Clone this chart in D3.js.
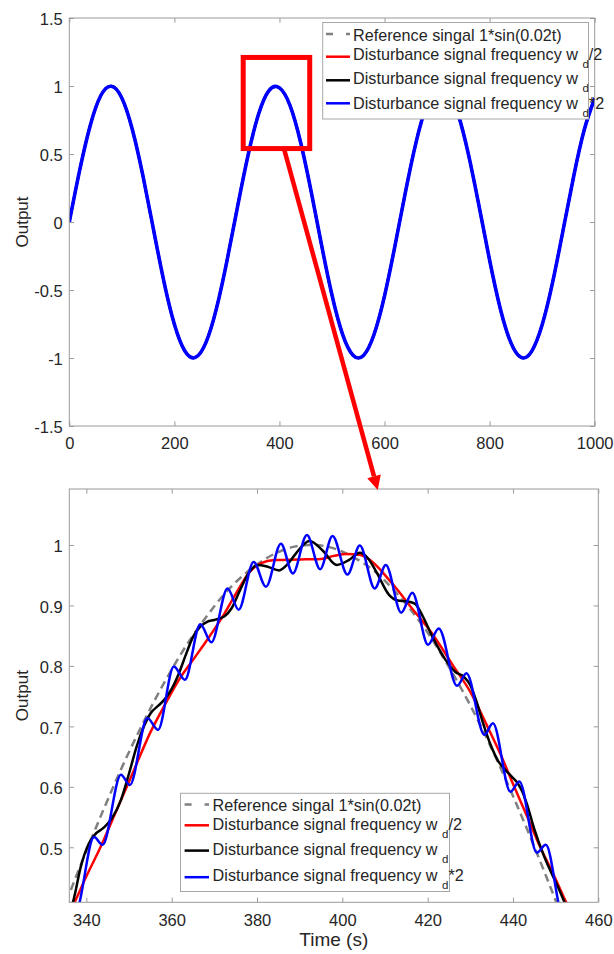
<!DOCTYPE html>
<html><head><meta charset="utf-8">
<script src="https://cdn.jsdelivr.net/npm/d3@7"></script>
<style>
html,body{margin:0;padding:0;background:#fff;}
svg text{font-family:"Liberation Sans",Arial,Helvetica,sans-serif;fill:#262626;}
</style></head><body>
<svg id="chart" width="614" height="954"></svg>
<script>
// ---------------- DATA ----------------
// Full view (0-1000 s)
const topTime = [0,20,40,60,80,100,120,140,160,180,200,220,240,260,280,300,320,340,360,380,400,420,440,460,480,500,520,540,560,580,600,620,640,660,680,700,720,740,760,780,800,820,840,860,880,900,920,940,960,980,1000];
const topReference = [0,0.389,0.717,0.932,1.000,0.909,0.675,0.335,-0.058,-0.443,-0.757,-0.952,-0.996,-0.884,-0.631,-0.279,0.117,0.494,0.794,0.968,0.989,0.855,0.585,0.223,-0.174,-0.544,-0.828,-0.981,-0.979,-0.823,-0.537,-0.165,0.232,0.592,0.859,0.991,0.966,0.788,0.486,0.108,-0.288,-0.638,-0.887,-0.997,-0.949,-0.751,-0.435,-0.050,0.343,0.682,0.913];
const topHalfFreq   = [0,0.385,0.712,0.930,0.998,0.912,0.680,0.342,-0.050,-0.436,-0.752,-0.949,-0.996,-0.887,-0.637,-0.287,0.108,0.487,0.790,0.966,0.986,0.858,0.590,0.230,-0.167,-0.538,-0.824,-0.979,-0.981,-0.827,-0.543,-0.172,0.224,0.586,0.855,0.989,0.968,0.793,0.492,0.115,-0.281,-0.632,-0.883,-0.996,-0.951,-0.756,-0.442,-0.057,0.336,0.676,0.910];
const topFreq       = topHalfFreq;
const topDoubleFreq = topHalfFreq;

// Zoomed view (336-460 s)
const zoomRefTime = [332,336,340,344,348,352,356,360,364,368,372,376,380,384,388,392,396,400,404,408,412,416,420,424,428,432,436,440,444,448,452,456];
const zoomRef     = [0.349,0.423,0.494,0.562,0.627,0.687,0.743,0.794,0.840,0.880,0.916,0.945,0.968,0.985,0.996,1.000,0.998,0.989,0.974,0.954,0.926,0.893,0.855,0.810,0.761,0.707,0.648,0.585,0.518,0.448,0.375,0.300];

const zoomRedTime = [333,337.5,340,343.3,347,351,355,358.5,361.7,365,368.5,372.4,375.5,378.2,381,384,390,395,398,401,404,406.5,408.5,410.5,413,416,421,426,430,434,437,440.3,443.5,446.4,449.5,452.2,456];
const zoomRed     = [0.35,0.413,0.452,0.50,0.56,0.625,0.69,0.737,0.777,0.81,0.845,0.887,0.925,0.955,0.970,0.975,0.976,0.977,0.982,0.985,0.984,0.975,0.962,0.946,0.925,0.898,0.854,0.80,0.757,0.70,0.655,0.60,0.548,0.50,0.455,0.413,0.36];

const zoomBlackTime = [334.5,337,338.7,340.5,342,344,346,348.1,350,351.8,353.5,355.1,357,358.4,360,361.7,363.5,365,366.7,368.3,370,372.4,374,376,378,380.2,382.5,385.2,387,389,392.3,395.5,398.7,401.5,404.1,406,408,411,413,415,417,419,421,424.2,426.5,428.5,430,431.5,433,434.9,436.5,438.2,439.7,441.1,442.2,443.2,445,447.3,450.5,453.5];
const zoomBlack     = [0.37,0.413,0.468,0.505,0.521,0.532,0.548,0.578,0.622,0.667,0.70,0.722,0.735,0.745,0.762,0.788,0.822,0.848,0.865,0.873,0.876,0.882,0.895,0.925,0.953,0.967,0.964,0.958,0.967,0.985,1.0066,0.99,0.967,0.975,0.987,0.978,0.955,0.917,0.908,0.907,0.903,0.88,0.85,0.81,0.79,0.782,0.768,0.74,0.705,0.667,0.643,0.628,0.617,0.606,0.592,0.573,0.53,0.485,0.435,0.385];

const zoomBlueTime = [333.5,335.6,337.5,341.8,343.8,348.1,350.2,354.3,356.8,360.5,363.1,366.7,369.3,373.1,375.7,379.2,382.1,385.6,388.4,391.7,394.8,397.7,401.2,404.1,407.6,410.2,413.8,416.4,420.1,422.6,426.9,429.1,433.3,435.3,439.4,441.5,445.6,447.7,451.8,453.9,456];
const zoomBlue     = [0.36,0.41,0.395,0.517,0.504,0.620,0.603,0.714,0.694,0.799,0.777,0.869,0.839,0.928,0.893,0.972,0.931,1.002,0.953,1.0165,0.960,1.015,0.951,0.999,0.928,0.967,0.888,0.921,0.835,0.862,0.767,0.788,0.686,0.705,0.592,0.609,0.491,0.504,0.385,0.39,0.34];

const topXTicks = [0,200,400,600,800,1000];
const topYTicks = [-1.5,-1,-0.5,0,0.5,1,1.5];
const zoomXTicks = [340,360,380,400,420,440,460];
const zoomYTicks = [0.5,0.6,0.7,0.8,0.9,1];

const legendLabels = [
  {main:"Reference singal 1*sin(0.02t)", sub:"", tail:""},
  {main:"Disturbance signal frequency w ", sub:"d", tail:"/2"},
  {main:"Disturbance signal frequency w ", sub:"d", tail:""},
  {main:"Disturbance signal frequency w ", sub:"d", tail:"*2"}
];
// zoom window (data units of the full view) and arrow anchors
const zoomWindow = {t0:331, t1:457.6, v0:0.54, v1:1.21};
const arrowFrom = {t:408.6, v:0.54};   // on top chart
const arrowTo   = {t:408.3, v:1.091};  // on zoom chart

// ---------------- STYLE / LAYOUT ----------------
const styles = [
  {color:"#808080", width:2.5, dash:"8,5", legDash:"7,13"},
  {color:"#ff0000", width:2.5, dash:null},
  {color:"#000000", width:2.5, dash:null},
  {color:"#0000ff", width:2.5, dash:null}
];
const AX = "#9a9a9a", TICK = 4.7, TICKFS = 16.5, LEGFS = 16.2;
const svg = d3.select("#chart");

const xTop = d3.scaleLinear([0,1000],[69.3,594.7]);
const yTop = d3.scaleLinear([-1.5,1.5],[426,18]);
const xBot = d3.scaleLinear([336,460],[69.3,598.3]);
const yBot = d3.scaleLinear([0.409,1.0926],[902.3,489]);

function clip(id, x, y){
  svg.append("clipPath").attr("id",id).append("rect")
    .attr("x",x.range()[0]).attr("y",y.range()[1])
    .attr("width",x.range()[1]-x.range()[0]).attr("height",y.range()[0]-y.range()[1]);
}
clip("clipTop",xTop,yTop); clip("clipBot",xBot,yBot);

function drawLine(g, ts, vs, x, y, st, curve, w){
  const line = d3.line().x((d,i)=>x(ts[i])).y(d=>y(d)).curve(curve);
  g.append("path").datum(vs).attr("d",line)
    .attr("fill","none").attr("stroke",st.color)
    .attr("stroke-width",w||st.width)
    .attr("stroke-dasharray",st.dash)
    .attr("stroke-linejoin","round");
}

function drawFrame(x, y, xTicks, yTicks, xPad, fs){
  const [x0,x1] = x.range(), [yb,yt] = y.range();
  const g = svg.append("g");
  const fmt = d=>String(d);
  const style = sel => {
    sel.select(".domain").remove();
    sel.selectAll(".tick line").attr("stroke",AX).attr("stroke-width",1);
    sel.selectAll("text").attr("font-size",fs+"px").attr("font-family",null).attr("fill","#262626");
    sel.attr("font-family",null).attr("font-size",null);
  };
  g.append("g").attr("transform",`translate(0,${yb})`)
    .call(d3.axisBottom(x).tickValues(xTicks).tickSize(-TICK).tickPadding(xPad).tickFormat(fmt)).call(style);
  g.append("g").attr("transform",`translate(0,${yt})`)
    .call(d3.axisTop(x).tickValues(xTicks).tickSize(-TICK).tickFormat("")).call(style);
  const gl = g.append("g").attr("transform",`translate(${x0},0)`)
    .call(d3.axisLeft(y).tickValues(yTicks).tickSize(-TICK).tickPadding(6.5).tickFormat(fmt)).call(style);
  gl.selectAll("text").attr("dy","0.42em");
  g.append("g").attr("transform",`translate(${x1},0)`)
    .call(d3.axisRight(y).tickValues(yTicks).tickSize(-TICK).tickFormat("")).call(style);
  g.append("rect").attr("x",x0).attr("y",yt).attr("width",x1-x0).attr("height",yb-yt)
    .attr("fill","none").attr("stroke",AX).attr("stroke-width",1);
}

function drawLegend(L){
  const g = svg.append("g");
  g.append("rect").attr("x",L.x0).attr("y",L.y0).attr("width",L.x1-L.x0).attr("height",L.y1-L.y0)
    .attr("fill","#fff").attr("stroke","#a8a8a8").attr("stroke-width",1);
  legendLabels.forEach((lab,i)=>{
    const st = styles[i];
    g.append("line").attr("x1",L.lx0).attr("x2",L.lx1).attr("y1",L.ly[i]).attr("y2",L.ly[i])
      .attr("stroke",st.color).attr("stroke-width",2.5).attr("stroke-dasharray",st.legDash||null);
    const t = g.append("text").attr("x",L.tx).attr("y",L.by[i]).attr("font-size",LEGFS+"px");
    t.append("tspan").text(lab.main);
    if(lab.sub){
      t.append("tspan").attr("dy",7.5).attr("font-size","11.5px").text(lab.sub);
      if(lab.tail) t.append("tspan").attr("dy",-7.5).attr("font-size",LEGFS+"px").text(lab.tail);
    }
  });
}

// ---------------- TOP CHART ----------------
const gTop = svg.append("g").attr("clip-path","url(#clipTop)");
drawLine(gTop, topTime, topReference, xTop, yTop, styles[0], d3.curveNatural);
drawLine(gTop, topTime, topHalfFreq, xTop, yTop, styles[1], d3.curveNatural);
drawLine(gTop, topTime, topFreq, xTop, yTop, styles[2], d3.curveNatural);
drawLine(gTop, topTime, topDoubleFreq, xTop, yTop, styles[3], d3.curveNatural, 3.6);
drawFrame(xTop, yTop, topXTicks, topYTicks, 11, TICKFS);

// ---------------- ZOOM CHART ----------------
const gBot = svg.append("g").attr("clip-path","url(#clipBot)");
drawLine(gBot, zoomRefTime, zoomRef, xBot, yBot, styles[0], d3.curveNatural);
drawLine(gBot, zoomRedTime, zoomRed, xBot, yBot, styles[1], d3.curveMonotoneX);
drawLine(gBot, zoomBlackTime, zoomBlack, xBot, yBot, styles[2], d3.curveMonotoneX);
drawLine(gBot, zoomBlueTime, zoomBlue, xBot, yBot, styles[3], d3.curveMonotoneX);
drawFrame(xBot, yBot, zoomXTicks, zoomYTicks, 11.5, TICKFS);

// axis titles
svg.append("text").attr("transform",`translate(27.5,${(yTop.range()[0]+yTop.range()[1])/2}) rotate(-90)`)
  .attr("text-anchor","middle").attr("font-size","17px").text("Output");
svg.append("text").attr("transform",`translate(27.5,${(yBot.range()[0]+yBot.range()[1])/2}) rotate(-90)`)
  .attr("text-anchor","middle").attr("font-size","17px").text("Output");
svg.append("text").attr("x",(xBot.range()[0]+xBot.range()[1])/2).attr("y",946)
  .attr("text-anchor","middle").attr("font-size","19px").text("Time (s)");

// legends
drawLegend({x0:322.7,y0:22.5,x1:588.5,y1:119,lx0:326,lx1:350,tx:353,ly:[34,56.7,80.3,103.3],by:[41,60,84.3,109]});
drawLegend({x0:180.5,y0:793.3,x1:449.5,y1:891.5,lx0:184.6,lx1:209,tx:212.6,ly:[804.5,825.3,850.6,877.2],by:[810.7,830,855,881]});

// zoom annotation (box + arrow)
svg.append("rect")
  .attr("x",xTop(zoomWindow.t0)).attr("y",yTop(zoomWindow.v1))
  .attr("width",xTop(zoomWindow.t1)-xTop(zoomWindow.t0)).attr("height",yTop(zoomWindow.v0)-yTop(zoomWindow.v1))
  .attr("fill","none").attr("stroke","#ff0000").attr("stroke-width",5);
(function(){
  const sx = xTop(arrowFrom.t), sy = yTop(arrowFrom.v);
  const ex = xBot(arrowTo.t), ey = yBot(arrowTo.v);
  const ang = Math.atan2(ey-sy, ex-sx), hl = 14, hw = 7;
  const bx = ex - hl*Math.cos(ang), by = ey - hl*Math.sin(ang);
  svg.append("line").attr("x1",sx).attr("y1",sy).attr("x2",bx).attr("y2",by)
    .attr("stroke","#ff0000").attr("stroke-width",4.5);
  const px = -Math.sin(ang), py = Math.cos(ang);
  svg.append("path").attr("d",`M${ex},${ey}L${bx+px*hw},${by+py*hw}L${bx-px*hw},${by-py*hw}Z`).attr("fill","#ff0000");
})();
</script>
</body></html>
